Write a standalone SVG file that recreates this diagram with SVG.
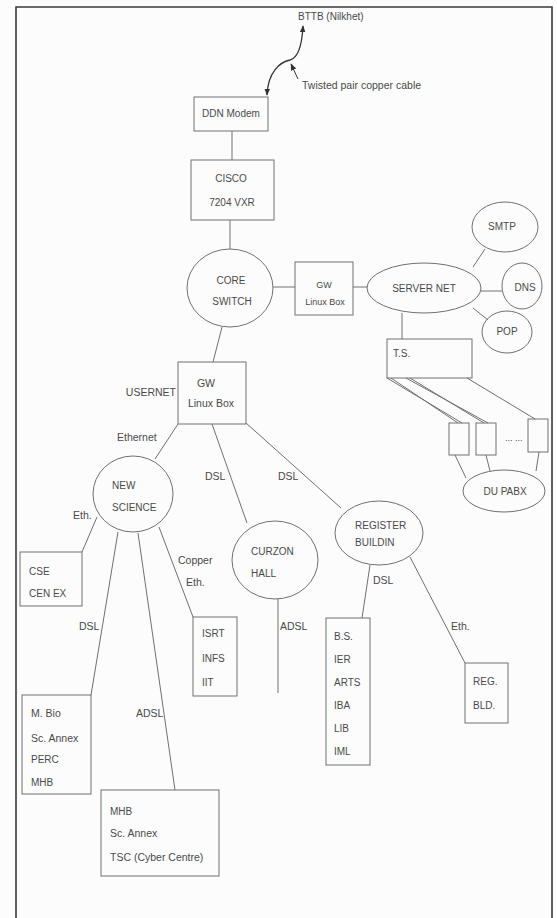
<svg xmlns="http://www.w3.org/2000/svg" width="557" height="918" viewBox="0 0 557 918">
<defs>
<style>
.bg{fill:#fcfcfc}
.frame{fill:none;stroke:#3a3a3a;stroke-width:1.6}
.n{fill:none;stroke:#707070;stroke-width:1}
.c{fill:none;stroke:#707070;stroke-width:1}
text{font-family:"Liberation Sans",Arial,sans-serif;fill:#4a4a4a;font-size:10.5px}
.u{font-size:10px}
.s{font-size:9px}
.m{text-anchor:middle}
.e{text-anchor:end}
</style>
<marker id="ah" viewBox="0 0 10 8" refX="9" refY="4" markerWidth="7" markerHeight="6" orient="auto-start-reverse" markerUnits="userSpaceOnUse">
<path d="M0,0 L10,4 L0,8 z" fill="#333"/>
</marker>
</defs>
<rect class="bg" x="0" y="0" width="557" height="918"/>
<path class="frame" d="M16,918 L16,7 L552,7 L552,918"/>

<g id="connectors">
<path d="M267,95 C268,72 280,62 290,60 C298,58 302,45 303,26" fill="none" stroke="#333" stroke-width="1.3" marker-start="url(#ah)" marker-end="url(#ah)"/>
<path d="M298,79 L291,64" fill="none" stroke="#333" stroke-width="1" marker-end="url(#ah)"/>
<path class="c" d="M232,131 L232,160"/>
<path class="c" d="M230,220 L230,249"/>
<path class="c" d="M273,287 L295,287"/>
<path class="c" d="M353,287 L367,287"/>
<path class="c" d="M473,267 L485,249"/>
<path class="c" d="M481,291 L502,291"/>
<path class="c" d="M473,308 L488,320"/>
<path class="c" d="M402,313 L402,339"/>
<path class="c" d="M387,378 L462,423"/>
<path class="c" d="M391,378 L458,423"/>
<path class="c" d="M406,378 L488,423"/>
<path class="c" d="M410,378 L484,423"/>
<path class="c" d="M467,378 L535,419"/>
<path class="c" d="M455,455 L466,478"/>
<path class="c" d="M486,455 L490,471"/>
<path class="c" d="M539,452 L536,471"/>
<path class="c" d="M222,327 L213,362"/>
<path class="c" d="M178,424 L155,459"/>
<path class="c" d="M212,424 L247,523"/>
<path class="c" d="M246,423 L341,508"/>
<path class="c" d="M97,517 L82,552"/>
<path class="c" d="M159,527 L193,617"/>
<path class="c" d="M118,532 L91,695"/>
<path class="c" d="M138,533 L175,790"/>
<path class="c" d="M278,599 L278,693"/>
<path class="c" d="M370,565 L362,618"/>
<path class="c" d="M410,557 L465,663"/>
</g>

<g id="labels">
<text x="298" y="20" class="u">BTTB (Nilkhet)</text>
<text x="302" y="89">Twisted pair copper cable</text>
<text x="176" y="396" class="e">USERNET</text>
<text x="117" y="441">Ethernet</text>
<text x="205" y="480">DSL</text>
<text x="278" y="480">DSL</text>
<text x="73" y="519">Eth.</text>
<text x="178" y="564">Copper</text>
<text x="186" y="586">Eth.</text>
<text x="79" y="630">DSL</text>
<text x="136" y="717">ADSL</text>
<text x="280" y="630">ADSL</text>
<text x="373" y="584">DSL</text>
<text x="451" y="630">Eth.</text>
</g>

<g id="ddn-modem">
<rect class="n" x="194" y="97" width="74" height="34"/>
<text x="231" y="117" class="m u">DDN Modem</text>
</g>
<g id="cisco">
<rect class="n" x="191" y="160" width="83" height="60"/>
<text x="231" y="182" class="m u">CISCO</text>
<text x="232" y="206" class="m u">7204 VXR</text>
</g>
<g id="core-switch">
<ellipse class="n" cx="230" cy="288" rx="43" ry="39"/>
<text x="231" y="284" class="m u">CORE</text>
<text x="232" y="305" class="m u">SWITCH</text>
</g>
<g id="gw-server">
<rect class="n" x="295" y="262" width="58" height="53"/>
<text x="324" y="288" class="m s">GW</text>
<text x="325" y="305" class="m s">Linux Box</text>
</g>
<g id="server-net">
<ellipse class="n" cx="424" cy="288" rx="57" ry="25"/>
<text x="424" y="292" class="m u">SERVER NET</text>
</g>
<g id="smtp">
<ellipse class="n" cx="505" cy="227" rx="33" ry="25"/>
<text x="502" y="230" class="m u">SMTP</text>
</g>
<g id="dns">
<ellipse class="n" cx="522" cy="286" rx="20" ry="23"/>
<text x="525" y="291" class="m u">DNS</text>
</g>
<g id="pop">
<ellipse class="n" cx="507" cy="332" rx="25" ry="21"/>
<text x="507" y="335" class="m u">POP</text>
</g>
<g id="ts">
<rect class="n" x="387" y="339" width="85" height="39"/>
<text x="393" y="357" class="u">T.S.</text>
</g>
<g id="port1"><rect class="n" x="449" y="423" width="20" height="32"/></g>
<g id="port2"><rect class="n" x="476" y="423" width="20" height="32"/></g>
<g id="port3"><rect class="n" x="528" y="419" width="20" height="33"/></g>
<text x="505" y="441" class="s">... ...</text>
<g id="du-pabx">
<ellipse class="n" cx="504" cy="491" rx="41" ry="21"/>
<text x="505" y="495" class="m u">DU PABX</text>
</g>
<g id="gw-user">
<rect class="n" x="178" y="362" width="68" height="62"/>
<text x="206" y="387" class="m">GW</text>
<text x="211" y="407" class="m">Linux Box</text>
</g>
<g id="new-science">
<ellipse class="n" cx="133" cy="494" rx="40" ry="38"/>
<text x="112" y="489" class="u">NEW</text>
<text x="112" y="511" class="u">SCIENCE</text>
</g>
<g id="cse">
<rect class="n" x="20" y="552" width="62" height="54"/>
<text x="29" y="575" class="u">CSE</text>
<text x="29" y="597" class="u">CEN EX</text>
</g>
<g id="isrt">
<rect class="n" x="193" y="617" width="44" height="79"/>
<text x="202" y="637" class="u">ISRT</text>
<text x="202" y="662" class="u">INFS</text>
<text x="202" y="686" class="u">IIT</text>
</g>
<g id="mbio">
<rect class="n" x="22" y="695" width="69" height="99"/>
<text x="31" y="717">M. Bio</text>
<text x="31" y="742">Sc. Annex</text>
<text x="31" y="763" class="u">PERC</text>
<text x="31" y="786" class="u">MHB</text>
</g>
<g id="mhb">
<rect class="n" x="101" y="790" width="118" height="86"/>
<text x="110" y="815" class="u">MHB</text>
<text x="110" y="837">Sc. Annex</text>
<text x="110" y="861">TSC (Cyber Centre)</text>
</g>
<g id="curzon-hall">
<ellipse class="n" cx="275" cy="560" rx="43" ry="39"/>
<text x="251" y="555" class="u">CURZON</text>
<text x="251" y="577" class="u">HALL</text>
</g>
<g id="register-building">
<ellipse class="n" cx="379" cy="533" rx="44" ry="32"/>
<text x="355" y="529" class="u">REGISTER</text>
<text x="355" y="546" class="u">BUILDIN</text>
</g>
<g id="bs">
<rect class="n" x="326" y="618" width="44" height="147"/>
<text x="334" y="640" class="u">B.S.</text>
<text x="334" y="663" class="u">IER</text>
<text x="334" y="686" class="u">ARTS</text>
<text x="334" y="709" class="u">IBA</text>
<text x="334" y="732" class="u">LIB</text>
<text x="334" y="755" class="u">IML</text>
</g>
<g id="reg-bld">
<rect class="n" x="465" y="663" width="43" height="60"/>
<text x="473" y="685" class="u">REG.</text>
<text x="473" y="709" class="u">BLD.</text>
</g>
</svg>
